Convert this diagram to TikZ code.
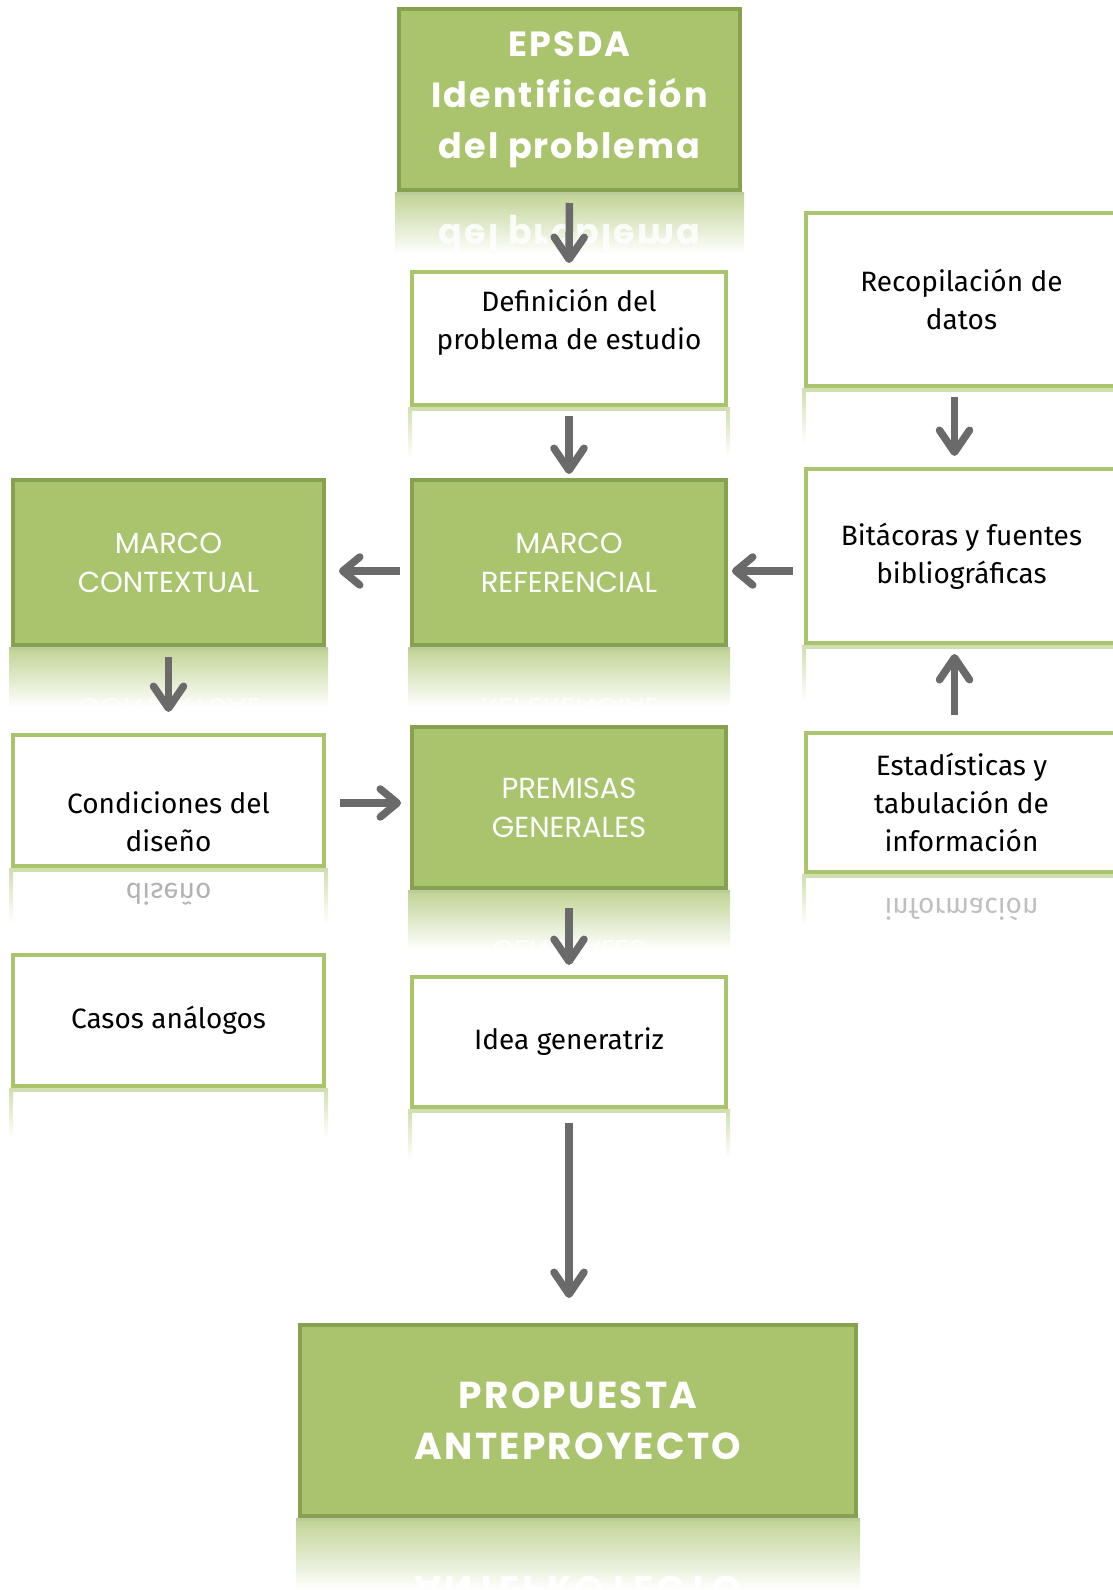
\documentclass[tikz,border=0pt]{standalone}
\usepackage{fontspec}
\usepackage{graphicx}
\usetikzlibrary{arrows.meta,calc}
\setmainfont{Fira Sans}
\newfontfamily\titlefont[LetterSpace=6]{Poppins}
\newfontfamily\gothfont{Poppins}

\definecolor{gfill}{HTML}{AAC46E}
\definecolor{gedge}{HTML}{86A14F}
\definecolor{arrowgray}{HTML}{6A6A6A}

% faded reflection under a green box
\newcommand\greenrefl[2]{%
  \shade[top color=gfill!75!white, bottom color=white]
    ([xshift=-2pt]#1.south west) rectangle ([xshift=2pt,yshift=-#2]#1.south east);
  \fill[gedge!55!white] ([xshift=-2pt]#1.south west) rectangle ([xshift=2pt,yshift=-3pt]#1.south east);}
% faded reflection under a white box (only its green frame shows)
\newcommand\whiterefl[2]{%
  \fill[gfill!55!white] ([xshift=-2pt]#1.south west) rectangle ([xshift=2pt,yshift=-4pt]#1.south east);
  \shade[top color=gfill!55!white, bottom color=white]
    ([xshift=-2pt]#1.south west) rectangle ([xshift=2pt,yshift=-#2]#1.south west);
  \shade[top color=gfill!55!white, bottom color=white]
    ([xshift=-2pt]#1.south east) rectangle ([xshift=2pt,yshift=-#2]#1.south east);}

\tikzset{
  box/.style={line width=4pt, align=center, inner sep=0pt},
  greenbox/.style={box, draw=gedge, fill=gfill, text=white},
  whitebox/.style={box, draw=gfill, fill=white, text=black},
  bodytext/.style={font=\fontsize{28}{38}\selectfont},
  marcotext/.style={font=\gothfont\fontsize{29}{39}\selectfont},
  titletext/.style={font=\titlefont\bfseries\fontsize{35}{51}\selectfont},
  bigtitle/.style={font=\titlefont\bfseries\fontsize{37.5}{51}\selectfont},
  vflow/.style={draw=arrowgray, line width=7.5pt, -{Straight Barb[length=22pt,width=30pt,round]}},
  hflow/.style={draw=arrowgray, line width=7.5pt, -{Straight Barb[length=17pt,width=28pt,round]}},
}

\begin{document}
\begin{tikzpicture}[x=1pt,y=1pt]
\useasboundingbox (0,0) rectangle (1113,-1590);
\clip (0,0) rectangle (1113,-1590);
\fill[white] (0,0) rectangle (1113,-1590);

% boxes
\node[greenbox, titletext, minimum width=341pt, minimum height=181pt] (epsda) at (569.5,-99.5)
  {EPSDA\\Identificación\\del problema};
\node[whitebox, minimum width=314pt, minimum height=133pt] (def) at (569,-338.5) {};
\node[bodytext, align=center] (deftext) at (569,-322) {Definición del\\problema de estudio};
\node[greenbox, marcotext, minimum width=314pt, minimum height=165pt] (ref) at (569,-562.5)
  {MARCO\\REFERENCIAL};
\node[greenbox, marcotext, minimum width=311pt, minimum height=165pt] (ctx) at (168.5,-562.5)
  {MARCO\\CONTEXTUAL};
\node[whitebox, bodytext, minimum width=311pt, minimum height=173pt] (rec) at (961.5,-299.5)
  {Recopilación de\\datos};
\node[whitebox, bodytext, minimum width=311pt, minimum height=174pt] (bit) at (961.5,-556)
  {Bitácoras y fuentes\\bibliográficas};
\node[whitebox, minimum width=311pt, minimum height=131pt] (cond) at (168.5,-800.5) {};
\node[bodytext, align=center] (condtext) at (168.5,-821.5) {Condiciones del\\diseño};
\node[greenbox, marcotext, minimum width=314pt, minimum height=161pt] (prem) at (569,-807.5)
  {PREMISAS\\GENERALES};
\node[whitebox, bodytext, minimum width=311pt, minimum height=139pt] (est) at (961.5,-802.5)
  {Estadísticas y\\tabulación de\\información};
\node[whitebox, bodytext, minimum width=311pt, minimum height=131pt] (casos) at (168.5,-1020.5)
  {Casos análogos};
\node[whitebox, bodytext, minimum width=314pt, minimum height=130pt] (idea) at (569,-1042)
  {Idea generatriz};
\node[greenbox, bigtitle, minimum width=556pt, minimum height=191pt] (prop) at (578,-1420.5)
  {PROPUESTA\\ANTEPROYECTO};

% reflections
\greenrefl{epsda}{62pt}
\greenrefl{ref}{60pt}
\greenrefl{ctx}{60pt}
\greenrefl{prem}{60pt}
\greenrefl{prop}{72pt}
\whiterefl{def}{50pt}
\whiterefl{rec}{55pt}
\whiterefl{bit}{55pt}
\whiterefl{cond}{55pt}
\whiterefl{est}{50pt}
\whiterefl{casos}{50pt}
\whiterefl{idea}{50pt}

% mirrored text in the reflections
\begin{scope}
  \clip (397,-192) rectangle (742,-252);
  \node[titletext, text=white, opacity=0.85] (epsdamirror) at (569.5,-233) {\scalebox{1}[-1]{del problema}};
\end{scope}
\begin{scope}
  \clip (11,-647) rectangle (326,-704);
  \node[marcotext, text=white, opacity=0.8] (ctxmirror) at (168.5,-709) {\scalebox{1}[-1]{CONTEXTUAL}};
\end{scope}
\begin{scope}
  \clip (410,-647) rectangle (728,-704);
  \node[marcotext, text=white, opacity=0.8] (refmirror) at (569,-709) {\scalebox{1}[-1]{REFERENCIAL}};
\end{scope}
\begin{scope}
  \clip (410,-890) rectangle (728,-948);
  \node[marcotext, text=white, opacity=0.8] (premmirror) at (569,-951) {\scalebox{1}[-1]{GENERALES}};
\end{scope}
\begin{scope}
  \clip (11,-868) rectangle (326,-918);
  \node[bodytext, text=black, opacity=0.3] (condmirror) at (168.5,-894) {\scalebox{1}[-1]{diseño}};
\end{scope}
\begin{scope}
  \clip (804,-874) rectangle (1113,-924);
  \node[bodytext, text=black, opacity=0.25] (estmirror) at (961.5,-910) {\scalebox{1}[-1]{información}};
\end{scope}
\begin{scope}
  \clip (298,-1518) rectangle (858,-1590);
  \node[bigtitle, text=white, opacity=0.9] (propmirror) at (578,-1590) {\scalebox{1}[-1]{ANTEPROYECTO}};
\end{scope}

% connectors
\draw[vflow, shorten <=11pt, shorten >=7pt] (epsda.south) -- (def.north);
\draw[vflow, shorten <=9pt, shorten >=4pt] (def.south) -- (ref.north);
\draw[hflow, shorten <=10pt, shorten >=13pt] ([yshift=-8.5pt]ref.west) -- ([yshift=-8.5pt]ctx.east);
\draw[hflow, shorten <=11pt, shorten >=4pt] ([yshift=-15pt]bit.west) -- ([yshift=-8.5pt]ref.east);
\draw[vflow, shorten <=9pt, shorten >=11pt] ([xshift=-7pt]rec.south) -- ([xshift=-7pt]bit.north);
\draw[vflow, shorten <=16pt, shorten >=9pt] ([xshift=-7pt]est.north) -- ([xshift=-7pt]bit.south);
\draw[vflow, shorten <=10pt, shorten >=21pt] (ctx.south) -- (cond.north);
\draw[hflow, shorten <=14pt, shorten >=9pt] ([yshift=-2.5pt]cond.east) -- ([yshift=4.5pt]prem.west);
\draw[vflow, shorten <=18pt, shorten >=10pt] (prem.south) -- (idea.north);
\draw[vflow, shorten <=14pt, shorten >=25pt] (idea.south) -- (idea.south |- prop.north);
\end{tikzpicture}
\end{document}
